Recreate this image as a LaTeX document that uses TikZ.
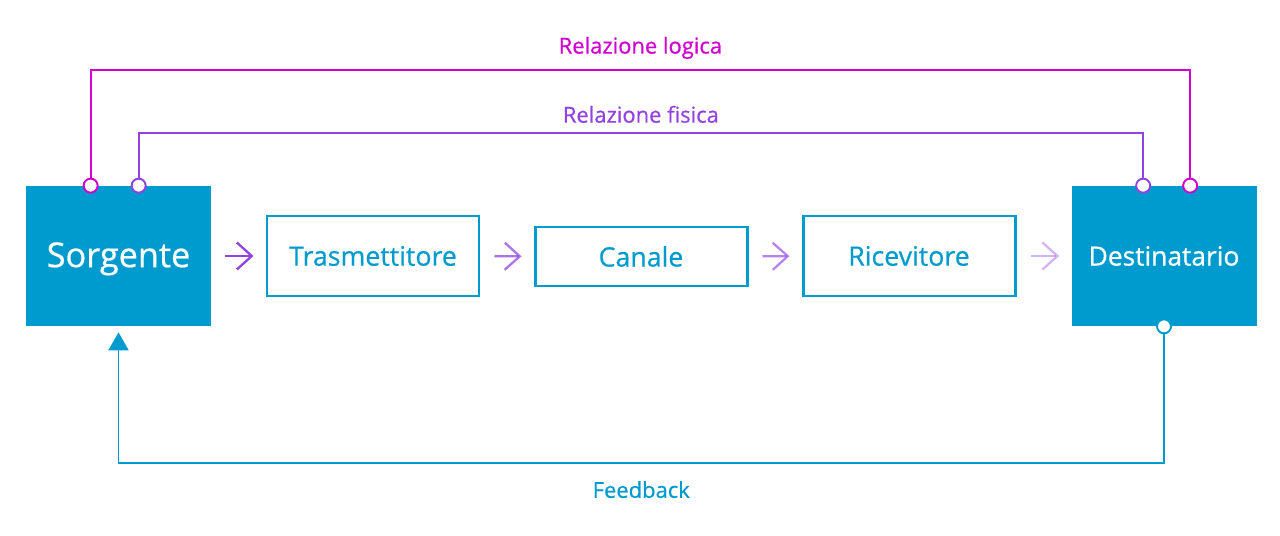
\documentclass[tikz,border=0pt]{standalone}
\usepackage{fontspec}
\setmainfont{Open Sans}
\newfontfamily\semifont{Open Sans}[FakeBold=0.6]
\definecolor{boxBlue}{RGB}{0,155,206}
\definecolor{logicMagenta}{RGB}{208,0,208}
\definecolor{physPurple}{RGB}{146,66,224}
\usetikzlibrary{arrows.meta,positioning,calc}

\tikzset{
  fullbox/.style={fill=boxBlue, text=white, minimum width=3.7cm, minimum height=2.8cm, inner sep=0pt},
  linebox/.style={draw=boxBlue, line width=1.7pt, text=boxBlue, minimum width=4.24cm, minimum height=1.6cm, inner sep=0pt, font=\semifont\fontsize{15.2}{17}\selectfont},
  port/.style={circle, draw, fill=white, line width=1.1pt, minimum size=0.28cm, inner sep=0pt},
  flow/.style={physPurple, line width=1.3pt, -{Straight Barb[length=3mm,width=5.4mm,line width=1.3pt]}, shorten <=0.28cm, shorten >=0.24cm},
  tag/.style={font=\semifont\fontsize{12.5}{14}\selectfont}
}

\begin{document}
\begin{tikzpicture}
  \useasboundingbox (0,0) rectangle (25.6,-10.72);

  % main chain
  \node[fullbox, font=\semifont\fontsize{19.5}{21}\selectfont, text depth=0.05cm] (sorg) at (2.37,-5.12) {Sorgente};
  \node[linebox] (tras) at (7.46,-5.12) {Trasmettitore};
  \node[linebox, minimum height=1.18cm] (canale) at (12.82,-5.13) {Canale};
  \node[linebox] (ricev) at (18.18,-5.12) {Ricevitore};
  \node[fullbox, font=\semifont\fontsize{15}{16}\selectfont] (dest) at (23.28,-5.12) {Destinatario};

  \draw[flow] (sorg.east) -- (tras.west);
  \draw[flow, opacity=0.75] (tras.east) -- (canale.west);
  \draw[flow, opacity=0.65] (canale.east) -- (ricev.west);
  \draw[flow, opacity=0.4] (ricev.east) -- (dest.west);

  % logical relation
  \node[port, draw=logicMagenta] (logA) at ($(sorg.north west)+(1.3,0)$) {};
  \node[port, draw=logicMagenta] (logB) at ($(dest.north west)+(2.38,0)$) {};
  \draw[logicMagenta, line width=1.1pt] (logA.north) -- ++(0,2.16) -| (logB.north)
    node[tag, text=logicMagenta, pos=0.25, above=0.08cm] (logTag) {Relazione logica};

  % physical relation
  \node[port, draw=physPurple] (phyA) at ($(sorg.north west)+(2.26,0)$) {};
  \node[port, draw=physPurple] (phyB) at ($(dest.north west)+(1.44,0)$) {};
  \draw[physPurple, line width=1.1pt] (phyA.north) -- ++(0,0.9) -| (phyB.north)
    node[tag, text=physPurple, pos=0.25, above=0.06cm] (phyTag) {Relazione fisica};

  % feedback
  \node[port, draw=boxBlue] (fbA) at (dest.south) {};
  \draw[boxBlue, line width=1.1pt, -{Triangle[length=0.36cm,width=0.4cm]}, shorten >=0.12cm]
    (fbA.south) -- ++(0,-2.58) -| (sorg.south)
    node[tag, text=boxBlue, pos=0.25, below=0.22cm] (fbTag) {Feedback};
\end{tikzpicture}
\end{document}
